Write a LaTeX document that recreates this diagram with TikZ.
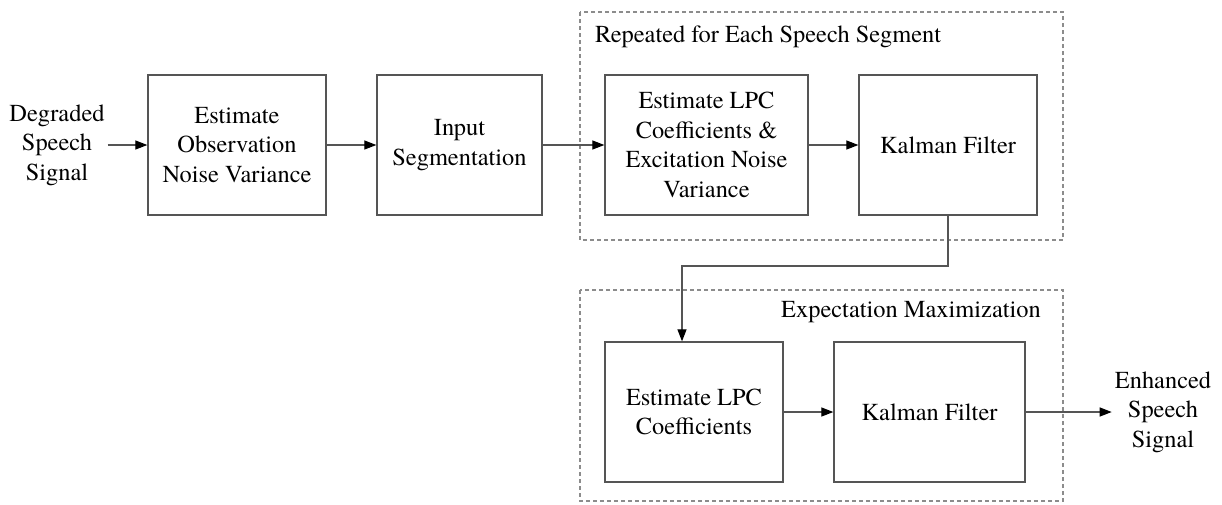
\documentclass[tikz,border=0pt]{standalone}
\usepackage{fontspec}
\setmainfont{texgyretermes}[Extension=.otf, UprightFont=*-regular, BoldFont=*-bold, ItalicFont=*-italic]
\usetikzlibrary{arrows.meta}
\definecolor{linec}{RGB}{85,85,85}
\definecolor{dashc}{RGB}{140,140,140}
\begin{document}
\begin{tikzpicture}[x=1pt,y=-1pt,
  font=\fontsize{24.4}{29.5}\selectfont,
  blk/.style={draw=linec, line width=1.3pt, inner sep=0pt, align=center},
  lbl/.style={align=center, inner sep=3pt},
  conn/.style={draw=linec, line width=1.2pt, -{Triangle[length=12pt,width=9pt,color=black]}},
  grp/.style={draw=dashc, line width=1.1pt, dash pattern=on 4pt off 3pt}]
\useasboundingbox (0,0) rectangle (1222,504);
% groups
\draw[grp] (580,12) rectangle (1063,240);
\draw[grp] (580,290) rectangle (1063,501);
\node[anchor=west, inner sep=0pt] (t1) at (595,37) {Repeated for Each Speech Segment};
\node[anchor=east, inner sep=0pt] (t2) at (1041,312) {Expectation Maximization};
% blocks
\node[blk, minimum width=178pt, minimum height=140pt] (b1) at (237,145) {Estimate\\Observation\\Noise Variance};
\node[blk, minimum width=165pt, minimum height=140pt] (b2) at (459.5,145) {Input\\Segmentation};
\node[blk, minimum width=203pt, minimum height=140pt] (b3) at (706.5,145) {Estimate LPC\\Coefficients \&\\Excitation Noise\\Variance};
\node[blk, minimum width=178pt, minimum height=140pt] (b4) at (948,145) {Kalman Filter};
\node[blk, minimum width=178pt, minimum height=140pt] (b5) at (694,412) {Estimate LPC\\Coefficients};
\node[blk, minimum width=191pt, minimum height=140pt] (b6) at (929.5,412) {Kalman Filter};
% input / output
\node[lbl] (in) at (57,145) {Degraded\\Speech\\Signal};
\node[lbl] (out) at (1163,412) {Enhanced\\Speech\\Signal};
% connectors
\draw[conn] (in.east) -- (b1.west);
\draw[conn] (b1.east) -- (b2.west);
\draw[conn] (b2.east) -- (b3.west);
\draw[conn] (b3.east) -- (b4.west);
\coordinate (k1) at (948,266);
\coordinate (k2) at (682,266);
\draw[conn] (b4.south) -- (k1) -- (k2) -- (k2 |- b5.north);
\draw[conn] (b5.east) -- (b6.west);
\draw[conn] (b6.east) -- (out.west);
\end{tikzpicture}
\end{document}
